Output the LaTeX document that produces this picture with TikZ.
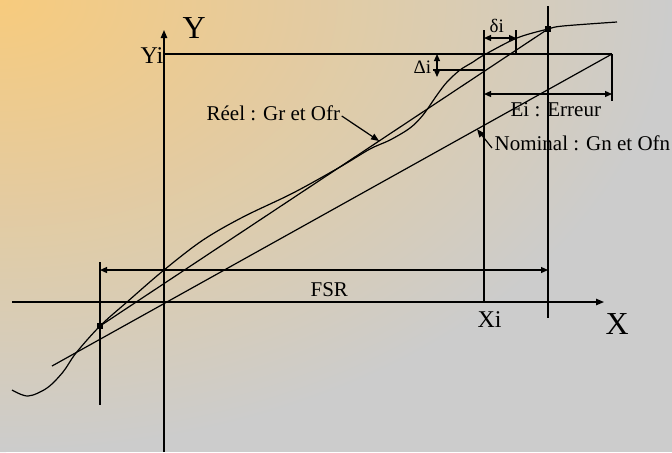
\documentclass[tikz,border=0pt]{standalone}
\usepackage{fontspec}
\setmainfont{Liberation Serif}
\usetikzlibrary{arrows.meta}
\usepackage{xcolor}

\definecolor{bgorange}{RGB}{247,203,125}
\definecolor{bggray}{RGB}{204,204,204}

\begin{document}
\begin{tikzpicture}[x=0.5pt, y=-0.5pt, line width=0.6pt,
    lbl/.style={inner sep=0pt, anchor=base west, font=\fontsize{10.5}{12}\selectfont},
    axlbl/.style={lbl, font=\fontsize{16}{18}\selectfont},
    ticklbl/.style={lbl, font=\fontsize{12}{14}\selectfont},
    smalllbl/.style={lbl, font=\fontsize{9.5}{11}\selectfont},
    endpt/.style={rectangle, fill=black, inner sep=0pt, minimum size=2.6pt},
    ptr/.style={-{Triangle[length=4pt,width=3.2pt]}},
    dimarrow/.style={{Triangle[length=3.5pt,width=3pt]}-{Triangle[length=3.5pt,width=3pt]}}]

    % Background (gradient from the top left corner)
    \useasboundingbox (0,0) rectangle (672,452);
    \fill[bggray] (0,0) rectangle (672,452);
    \begin{scope}
        \clip (0,0) rectangle (672,452);
        \shade[inner color=bgorange, outer color=bggray] (0,0) ellipse [x radius=672, y radius=452];
    \end{scope}

    % Axes
    \coordinate (O)      at (164,302);
    \coordinate (ybot)   at (164,452);
    \coordinate (ytop)   at (164,30);
    \coordinate (xleft)  at (12,302);
    \coordinate (xright) at (604,302);
    \draw[ptr] (ybot) -- (ytop);
    \draw[ptr] (xleft) -- (xright);

    \node[axlbl]   (ylab)  at (182,38)  {Y};
    \node[axlbl]   (xlab)  at (605,334) {X};
    \node[ticklbl] (yilab) at (140,63)  {Yi};
    \node[ticklbl] (xilab) at (477,327) {Xi};

    % End points of the full scale range
    \node[endpt] (P1) at (100,326) {};
    \node[endpt] (P2) at (548,29)  {};

    % Construction lines
    \coordinate (yi)    at (164,54);
    \coordinate (ei)    at (612,54);
    \coordinate (eibot) at (612,101);
    \coordinate (xitop) at (484,30);
    \coordinate (xi)    at (484,302);
    \coordinate (fstop) at (548,6);
    \coordinate (fsbot) at (548,318);
    \coordinate (lotop) at (100,262);
    \coordinate (lobot) at (100,405);
    \coordinate (dtop)  at (516,30);
    \coordinate (dbot)  at (516,54);
    \coordinate (Dl)    at (433,70);
    \coordinate (Dr)    at (484,70);
    \draw (yi) -- (ei);
    \draw (ei) -- (eibot);
    \draw (xitop) -- (xi);
    \draw (fstop) -- (fsbot);
    \draw (lotop) -- (lobot);
    \draw (dtop) -- (dbot);
    \draw (Dl) -- (Dr);

    % Dimension arrows
    \coordinate (da) at (484,38);  \coordinate (db) at (516,38);
    \coordinate (Da) at (437,54);  \coordinate (Db) at (437,77);
    \coordinate (ea) at (484,94);  \coordinate (eb) at (612,94);
    \coordinate (fa) at (100,270); \coordinate (fb) at (548,270);
    \draw[dimarrow] (da) -- (db);
    \draw[dimarrow] (Da) -- (Db);
    \draw[dimarrow] (ea) -- (eb);
    \draw[dimarrow] (fa) -- (fb);

    \node[smalllbl] (dlab)   at (489,32)  {δi};
    \node[smalllbl] (Dlab)   at (413,73)  {Δi};
    \node[lbl]      (eilab)  at (510,116) {Ei : Erreur};
    \node[lbl]      (fsrlab) at (310,296) {FSR};

    % Real and nominal characteristics
    \coordinate (na) at (52,366);
    \draw (P1.center) -- (P2.center);
    \draw (na) -- (ei);
    \draw plot[smooth, tension=0.55] coordinates {(12,390) (28,396) (47,388) (63,372) (76,353)
        (P1.center) (127,302) (164,270) (203,240) (243,217) (293,193) (340,167) (370,149)
        (390,140) (410,128) (423,115) (437,95) (447,82) (460,70) (473,62) (484,55) (517,38)
        (P2.center) (563,26) (617,22)};

    % Labels with pointers
    \path (P1.center) -- (P2.center) coordinate[pos=0.623] (reeltip);
    \path (na) -- (ei) coordinate[pos=0.759] (nomtip);
    \node[lbl] (reel)    at (206,120) {Réel : Gr et Ofr};
    \node[lbl] (nominal) at (494,150) {Nominal : Gn et Ofn};
    \draw[ptr] ([shift={(1,-4)}]reel.base east) -- (reeltip);
    \draw[ptr] ([shift={(-2,-2)}]nominal.base west) -- (nomtip);
\end{tikzpicture}
\end{document}
